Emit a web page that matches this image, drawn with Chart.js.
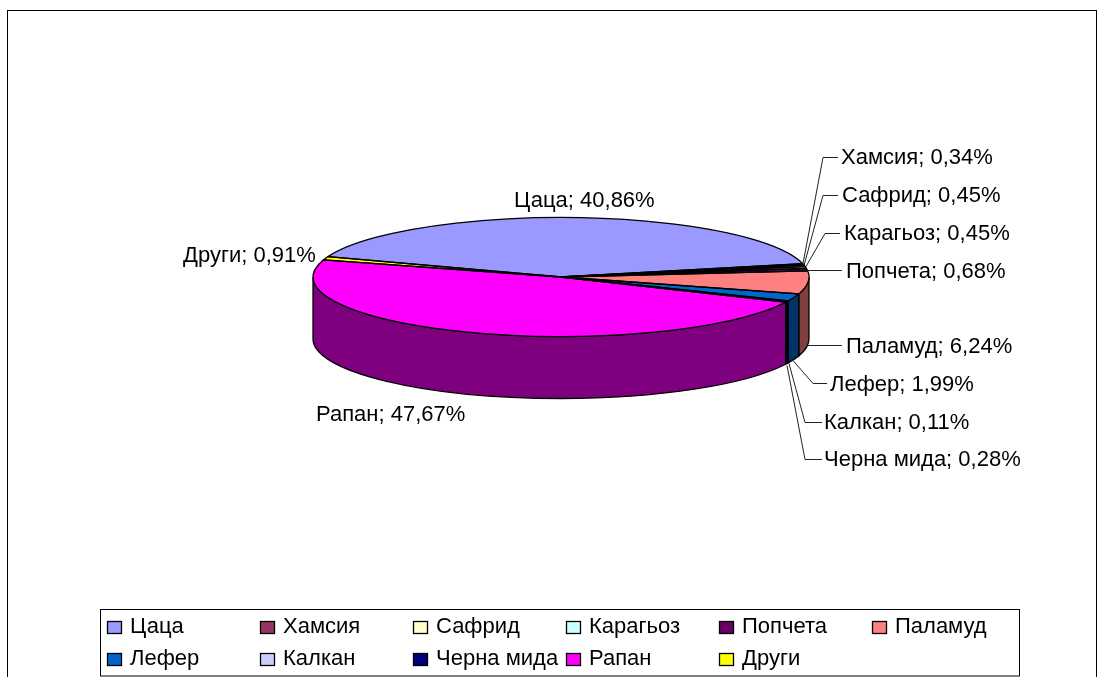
<!DOCTYPE html>
<html><head><meta charset="utf-8">
<style>html,body{margin:0;padding:0;background:#fff}canvas{display:block}</style>
<script src="https://cdn.jsdelivr.net/npm/chart.js@4"></script></head>
<body><canvas id="c" width="1104" height="677"></canvas>
<script>
const categories=['Цаца','Хамсия','Сафрид','Карагьоз','Попчета','Паламуд','Лефер','Калкан','Черна мида','Рапан','Други'];
const shares=[40.86,0.34,0.45,0.45,0.68,6.24,1.99,0.11,0.28,47.67,0.91];
const colors=['#9999FF','#993366','#FFFFCC','#CCFFFF','#660066','#FF8080','#0066CC','#CCCCFF','#000080','#FF00FF','#FFFF00'];
const FONT='22px "Liberation Sans", Arial, sans-serif';
const SQUASH=0.24, DEPTH=62;
// label placement: text left x, text mid y, optional leader polyline
const labelLayout=[
 {x:514,y:201},
 {x:841,y:158,l:[[803,263],[823,157],[838,157]]},
 {x:842,y:196,l:[[804,265],[823,195],[838,195]]},
 {x:844,y:234,l:[[806,266],[825,233],[840,233]]},
 {x:846,y:272,l:[[807,270],[842,270]]},
 {x:846,y:347,l:[[808,345],[842,345]]},
 {x:830,y:385,l:[[793,360],[813,383],[827,383]]},
 {x:824,y:423,l:[[789,363],[805,422],[822,422]]},
 {x:824,y:460,l:[[787,365],[805,459],[822,459]]},
 {x:316,y:415},
 {x:183,y:256}
];
function dark(h){const n=parseInt(h.slice(1),16);return `rgb(${(n>>16&255)>>1},${(n>>8&255)>>1},${(n&255)>>1})`}
const pie3d={id:'pie3d',
 beforeDraw(ch){const c=ch.ctx;c.save();c.fillStyle='#fff';c.fillRect(0,0,1104,677);
  c.strokeStyle='#000';c.lineWidth=1;c.strokeRect(7.5,10.5,1089,680);c.restore();},
 beforeDatasetsDraw(ch){const c=ch.ctx,arcs=ch.getDatasetMeta(0).data;
  c.save();c.strokeStyle='#000';c.lineWidth=1.3;
  arcs.forEach((a,i)=>{const rx=a.outerRadius,ry=rx*SQUASH;
   const s=Math.max(a.startAngle,0),e=Math.min(a.endAngle,Math.PI);
   if(e<=s)return;
   c.beginPath();c.ellipse(a.x,a.y,rx,ry,0,s,e);c.ellipse(a.x,a.y+DEPTH,rx,ry,0,e,s,true);c.closePath();
   c.fillStyle=dark(colors[i]);c.fill();c.stroke();});
  c.restore();
  const a=arcs[0];c.save();c.translate(a.x,a.y);c.scale(1,SQUASH);c.translate(-a.x,-a.y);},
 afterDatasetsDraw(ch){const c=ch.ctx;c.restore();
  const arcs=ch.getDatasetMeta(0).data;
  c.save();c.strokeStyle='#000';c.lineWidth=1.3;c.lineJoin='round';
  arcs.forEach(a=>{const rx=a.outerRadius,ry=rx*SQUASH;
   c.beginPath();c.moveTo(a.x,a.y);c.ellipse(a.x,a.y,rx,ry,0,a.startAngle,a.endAngle);c.closePath();c.stroke();});
  c.restore();},
 afterDraw(ch){const c=ch.ctx;c.save();
  c.font=FONT;c.textBaseline='middle';c.textAlign='left';
  categories.forEach((n,i)=>{const p=labelLayout[i];
   if(p.l){c.beginPath();p.l.forEach((q,k)=>k?c.lineTo(q[0],q[1]+.5):c.moveTo(q[0],q[1]+.5));c.strokeStyle='#222';c.lineWidth=1;c.stroke();}
   c.fillStyle='#000';c.fillText(n+'; '+shares[i].toFixed(2).replace('.',',')+'%',p.x,p.y);});
  // legend
  c.strokeStyle='#000';c.lineWidth=1;c.fillStyle='#fff';c.fillRect(100.5,609.5,919,66.5);c.strokeRect(100.5,609.5,919,66.5);
  categories.forEach((n,i)=>{const col=i%6,row=i<6?0:1,x=107+col*153,y=row?653:621;
   c.fillStyle=colors[i];c.fillRect(x+.5,y+.5,14,12);c.lineWidth=1.3;c.strokeRect(x+.5,y+.5,14,12);
   c.fillStyle='#000';c.fillText(n,x+23,y+6);});
  c.restore();}
};
new Chart(document.getElementById('c'),{type:'pie',
 data:{labels:categories,datasets:[{data:shares,backgroundColor:colors,borderWidth:0}]},
 options:{responsive:false,animation:false,rotation:-70,radius:248,
  layout:{padding:{left:18,bottom:123}},
  plugins:{legend:{display:false},tooltip:{enabled:false},title:{display:false}}},
 plugins:[pie3d]});
</script></body></html>
